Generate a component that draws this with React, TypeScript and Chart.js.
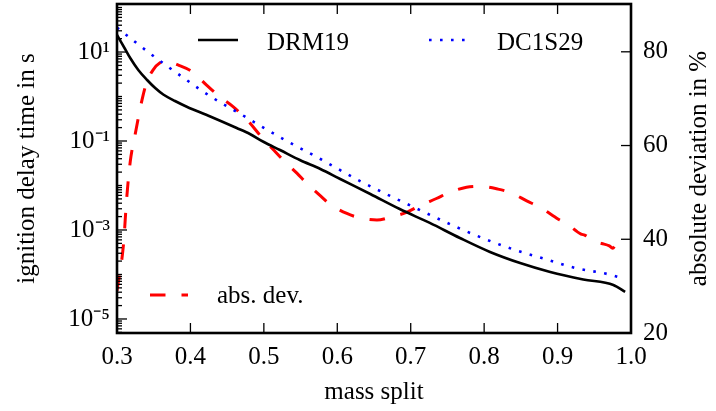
import React, { useEffect, useRef } from 'react';
import { Chart, registerables } from 'chart.js';

Chart.register(...registerables);

// ---- data ----
const DRM19_X = [0.300, 0.311, 0.318, 0.329, 0.341, 0.352, 0.363, 0.379, 0.395, 0.427, 0.463, 0.481, 0.500, 0.522, 0.549, 0.577, 0.604, 0.645, 0.685, 0.726, 0.767, 0.808, 0.849, 0.890, 0.935, 0.976, 0.992];
const DRM19_Y = [24.1, 11.7, 7.33, 3.94, 2.35, 1.55, 1.11, 0.792, 0.590, 0.356, 0.196, 0.1435, 0.095, 0.0628, 0.0374, 0.0235, 0.0140, 0.00644, 0.00296, 0.00144, 0.000661, 0.000321, 0.000181, 0.000114, 0.0000773, 0.0000581, 0.0000405];

const DC1S29_X = [0.300, 0.323, 0.346, 0.370, 0.393, 0.416, 0.442, 0.466, 0.491, 0.529, 0.577, 0.631, 0.695, 0.762, 0.801, 0.842, 0.883, 0.924, 0.967, 0.982];
const DC1S29_Y = [35.5, 17.7, 9.02, 4.60, 2.47, 1.33, 0.715, 0.426, 0.241, 0.105, 0.0394, 0.0126, 0.00384, 0.00117, 0.000628, 0.000356, 0.000223, 0.000140, 0.000103, 0.0000879];

const ABSDEV_X = [0.300, 0.309, 0.313, 0.318, 0.325, 0.334, 0.340, 0.349, 0.359, 0.367, 0.383, 0.402, 0.422, 0.440, 0.458, 0.477, 0.497, 0.513, 0.527, 0.545, 0.558, 0.576, 0.590, 0.613, 0.630, 0.654, 0.672, 0.695, 0.713, 0.735, 0.753, 0.776, 0.794, 0.819, 0.837, 0.858, 0.876, 0.896, 0.903, 0.912, 0.932, 0.937, 0.944, 0.949, 0.960, 0.9705, 0.975, 0.981];
const ABSDEV_Y = [29.0, 39.2, 48.4, 56.5, 62.6, 69.7, 73.3, 76.1, 77.7, 78.0, 77.2, 75.8, 72.9, 70.4, 68.3, 65.5, 61.8, 59.1, 56.8, 54.1, 52.0, 49.4, 47.5, 45.5, 44.6, 44.1, 44.7, 45.8, 47.2, 48.7, 50.0, 51.1, 51.3, 50.7, 49.9, 48.2, 46.8, 44.8, 44.1, 43.4, 41.1, 40.9, 40.2, 39.6, 39.1, 38.6, 38.1, 39.5];

const X_TICKS = [0.3, 0.4, 0.5, 0.6, 0.7, 0.8, 0.9, 1.0];
const LEFT_TICKS = [1e-5, 1e-3, 1e-1, 1e1];
const LEFT_TICK_LABELS = ['10⁻⁵', '10⁻³', '10⁻¹', '10¹'];
const RIGHT_TICKS = [20, 40, 60, 80];

const X_TITLE = 'mass split';
const LEFT_TITLE = 'ignition delay time in s';
const RIGHT_TITLE = 'absolute deviation in %';

const FONT = 'Liberation Serif';

const toPoints = (xs: number[], ys: number[]) => xs.map((x, i) => ({ x, y: ys[i] }));

const legendPos: Record<number, { x0: number; x1: number; y: number; tx: number; ty: number }> = {
  0: { x0: 198, x1: 238, y: 40, tx: 267, ty: 50 },
  1: { x0: 429, x1: 466, y: 40, tx: 497, ty: 50 },
  2: { x0: 150, x1: 188, y: 295, tx: 217, ty: 303 },
};

const zeroPad = (s: any) => {
  s.paddingTop = 0;
  s.paddingBottom = 0;
  s.paddingLeft = 0;
  s.paddingRight = 0;
};

const framePlugin = {
  id: 'frameTicksLegend',
  afterDatasetsDraw(chart: any) {
    const { ctx, chartArea: a, scales } = chart;
    const line = (x0: number, y0: number, x1: number, y1: number) => {
      ctx.beginPath();
      ctx.moveTo(x0, y0);
      ctx.lineTo(x1, y1);
      ctx.stroke();
    };
    ctx.save();
    ctx.strokeStyle = '#000';
    ctx.lineWidth = 1.3;
    ctx.setLineDash([]);
    for (const v of X_TICKS) {
      const px = scales.x.getPixelForValue(v);
      if (px <= a.left + 2 || px >= a.right - 2) continue;
      line(px, a.bottom, px, a.bottom - 10);
      line(px, a.top, px, a.top + 10);
    }
    const ly = scales.y;
    for (let d = -7; d <= 3; d++) {
      for (let m = 1; m <= 9; m++) {
        const v = m * Math.pow(10, d);
        if (v < ly.min || v > ly.max) continue;
        const py = ly.getPixelForValue(v);
        const major = m === 1 && LEFT_TICKS.some((t) => Math.round(Math.log10(t)) === d);
        line(a.left, py, a.left + (major ? 10 : 5), py);
      }
    }
    const ry = scales.y1;
    for (const v of RIGHT_TICKS) {
      const py = ry.getPixelForValue(v);
      if (py >= a.bottom - 2 || py <= a.top + 2) continue;
      line(a.right, py, a.right - 10, py);
    }
    ctx.lineWidth = 2.6;
    ctx.strokeRect(a.left, a.top, a.right - a.left, a.bottom - a.top);
    ctx.restore();
  },
  afterDraw(chart: any) {
    const { ctx, chartArea: a } = chart;
    ctx.save();
    chart.data.datasets.forEach((ds: any, i: number) => {
      const p = legendPos[i];
      if (!p) return;
      ctx.strokeStyle = ds.borderColor;
      ctx.lineWidth = ds.borderWidth;
      ctx.lineCap = 'butt';
      ctx.setLineDash(ds.borderDash || []);
      ctx.beginPath();
      ctx.moveTo(p.x0, p.y);
      ctx.lineTo(p.x1, p.y);
      ctx.stroke();
      ctx.setLineDash([]);
      ctx.fillStyle = '#000';
      ctx.font = `25px "${FONT}"`;
      ctx.textAlign = 'left';
      ctx.textBaseline = 'alphabetic';
      ctx.fillText(ds.label, p.tx, p.ty);
    });
    // right axis title, reading bottom-to-top like the left one
    ctx.translate(699, (a.top + a.bottom) / 2);
    ctx.rotate(-Math.PI / 2);
    ctx.textAlign = 'center';
    ctx.textBaseline = 'middle';
    ctx.fillStyle = '#000';
    ctx.font = `25px "${FONT}"`;
    ctx.fillText(RIGHT_TITLE, 0, 0);
    ctx.restore();
  },
};

export default function App() {
  const ref = useRef<HTMLCanvasElement | null>(null);
  useEffect(() => {
    document.body.style.margin = '0';
    const canvas = ref.current;
    if (!canvas) return;
    const tickFont = { family: FONT, size: 25 };
    const chart = new Chart(canvas, {
      type: 'line',
      data: {
        datasets: [
          {
            label: 'DRM19',
            data: toPoints(DRM19_X, DRM19_Y),
            yAxisID: 'y',
            borderColor: '#000000',
            borderWidth: 2.6,
            pointRadius: 0,
            cubicInterpolationMode: 'monotone',
          },
          {
            label: 'DC1S29',
            data: toPoints(DC1S29_X, DC1S29_Y),
            yAxisID: 'y',
            borderColor: '#0000ff',
            borderWidth: 2.6,
            borderDash: [2.6, 8.4],
            pointRadius: 0,
            cubicInterpolationMode: 'monotone',
          },
          {
            label: 'abs. dev.',
            data: toPoints(ABSDEV_X, ABSDEV_Y),
            yAxisID: 'y1',
            borderColor: '#ff0000',
            borderWidth: 3,
            borderDash: [15.5, 16],
            pointRadius: 0,
            cubicInterpolationMode: 'monotone',
          },
        ],
      } as any,
      options: {
        responsive: false,
        animation: false,
        events: [],
        layout: { padding: { top: 4, left: 0, right: 0, bottom: 0 } },
        plugins: { legend: { display: false }, tooltip: { enabled: false } },
        scales: {
          x: {
            type: 'linear',
            position: 'bottom',
            min: 0.3,
            max: 1.0,
            grid: { display: false, drawTicks: false },
            border: { display: false },
            afterBuildTicks: (s: any) => {
              s.ticks = X_TICKS.map((v) => ({ value: v }));
            },
            afterFit: (s: any) => {
              s.height = 78;
              zeroPad(s);
            },
            ticks: {
              font: tickFont,
              color: '#000',
              padding: 9,
              maxRotation: 0,
              autoSkip: false,
              callback: (v: any) => Number(v).toFixed(1),
            },
            title: {
              display: true,
              text: X_TITLE,
              font: tickFont,
              color: '#000',
              padding: { top: 0, bottom: 4 },
            },
          },
          y: {
            type: 'logarithmic',
            position: 'left',
            min: 4.84e-6,
            max: 120,
            grid: { display: false, drawTicks: false },
            border: { display: false },
            afterBuildTicks: (s: any) => {
              s.ticks = LEFT_TICKS.map((v) => ({ value: v }));
            },
            afterFit: (s: any) => {
              s.width = 117;
              zeroPad(s);
            },
            ticks: {
              font: tickFont,
              color: '#000',
              padding: 7,
              autoSkip: false,
              callback: (v: any) => {
                const i = LEFT_TICKS.findIndex((t) => Math.abs(Math.log10(t) - Math.log10(Number(v))) < 1e-6);
                return i >= 0 ? LEFT_TICK_LABELS[i] : '';
              },
            },
            title: {
              display: true,
              text: LEFT_TITLE,
              font: tickFont,
              color: '#000',
              padding: { top: 12, bottom: 0 },
            },
          },
          y1: {
            type: 'linear',
            position: 'right',
            min: 20,
            max: 90.2,
            grid: { display: false, drawTicks: false },
            border: { display: false },
            afterBuildTicks: (s: any) => {
              s.ticks = RIGHT_TICKS.map((v) => ({ value: v }));
            },
            afterFit: (s: any) => {
              s.width = 85;
              zeroPad(s);
            },
            ticks: {
              font: tickFont,
              color: '#000',
              padding: 12,
              autoSkip: false,
            },
            title: { display: false },
          },
        },
      } as any,
      plugins: [framePlugin],
    });
    return () => chart.destroy();
  }, []);
  return <canvas ref={ref} width={716} height={411} style={{ display: 'block' }} />;
}
